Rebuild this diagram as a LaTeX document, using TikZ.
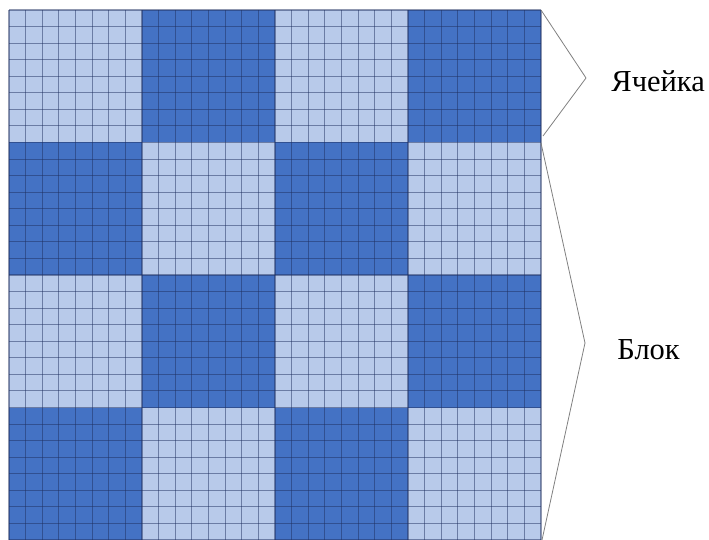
\documentclass[tikz,border=0pt]{standalone}
\usepackage{fontspec}
\setmainfont{Liberation Serif}
\usepackage{tikz}
\definecolor{bleuF}{HTML}{4472C4}
\definecolor{bleuC}{HTML}{B8CAEA}
\definecolor{trait}{HTML}{1F3060}
\definecolor{accol}{HTML}{808080}

\begin{document}
\begin{tikzpicture}[x=1pt, y=-1pt, thick]
\useasboundingbox (0,0) rectangle (709,540);

% Fond : tous les blocs en bleu foncé
\fill[bleuF] (9,10) rectangle (541,540);

% Blocs clairs (damier)
\foreach \i/\j in {0/0,2/0,1/1,3/1,0/2,2/2,1/3,3/3}
  \fill[bleuC] ({9+133*\i},{10+132.5*\j}) rectangle +(133,132.5);

% Quadrillage des cellules (8 par bloc)
\foreach \k in {0,...,32} {
  \draw[trait, opacity=.5, line width=1.1pt] ({9+16.625*\k},10) -- ({9+16.625*\k},540);
  \draw[trait, opacity=.5, line width=1.1pt] (9,{10+16.5625*\k}) -- (541,{10+16.5625*\k});
}

% Accolade - cellule
\coordinate (c1) at (541,10);
\coordinate (c2) at (586,78);
\coordinate (c3) at (543,136);
\draw[accol, line width=0.8pt] (c1) -- (c2) -- (c3);
\node[font=\fontsize{30.5}{32}\selectfont, anchor=base west, inner sep=0] (cell) at (611,92) {Ячейка};

% Accolade - bloc
\coordinate (b1) at (541,143);
\coordinate (b2) at (585,343);
\coordinate (b3) at (542,540);
\draw[accol, line width=0.8pt] (b1) -- (b2) -- (b3);
\node[font=\fontsize{30.5}{32}\selectfont, anchor=base west, inner sep=0] (block) at (617,359) {Блок};

\end{tikzpicture}
\end{document}
